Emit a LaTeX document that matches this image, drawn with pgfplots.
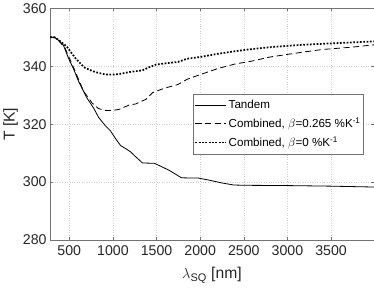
\documentclass[border=0pt]{standalone}
\usepackage{pgfplots}
\pgfplotsset{compat=1.18}
\usepackage{fontspec}
\setmainfont{Liberation Sans}
\definecolor{axgray}{gray}{0.45}
\definecolor{txt}{gray}{0.15}
\begin{document}
\begin{tikzpicture}
\begin{axis}[
  scale only axis,
  width=320pt, height=229pt,
  xmin=280, xmax=3990,
  ymin=280, ymax=360,
  xtick={500,1000,...,3500},
  ytick={280,300,...,360},
  /pgf/number format/assume math mode=true,
  /pgf/number format/1000 sep={},
  tick label style={font=\fontsize{14}{16}\selectfont, text=txt},
  xticklabel style={yshift=-2pt},
  label style={font=\fontsize{15.5}{18}\selectfont, text=txt},
  xlabel={$\lambda_{\mathrm{SQ}}$ [nm]},
  ylabel={T [K]},
  xlabel style={yshift=-5pt},
  ylabel style={yshift=-2pt},
  axis line style={axgray},
  tick style={axgray},
  tick align=inside,
  major tick length=3pt,
  grid=major,
  grid style={dotted, gray!35},
  legend style={at={(0.969,0.5)}, anchor=east, draw=axgray, fill=white,
    font=\fontsize{11.5}{14}\selectfont, text=black, inner xsep=1pt, inner ysep=4pt,
    row sep=3.5pt, cells={anchor=west}},
  legend cell align=left,
  legend image code/.code={\draw[#1] (0pt,0pt) -- (30pt,0pt);},
]
\addplot[black, line width=0.8pt] coordinates {
(280,350) (330,350) (373,349.1) (431,347.4) (489,342.9) (550,339) (605,334.9)
(701,329.1) (780,325.5) (837,322.3) (915,319.4) (972,317.7) (1030,315)
(1089,312.6) (1150,311.5) (1200,310.5) (1270,308.5) (1339,306.6) (1475,306.5)
(1560,305.3) (1649,304) (1785,301.5) (1900,301.4) (1977,301.4) (2100,300.7)
(2250,299.7) (2383,299) (2500,298.9) (3000,298.8) (3500,298.6) (3990,298.3)
};
\addlegendentry{Tandem}
\addplot[black, line width=0.8pt, dash pattern=on 6pt off 3.5pt] coordinates {
(280,350) (330,350) (373,349) (451,346.3) (567,338.3) (663,331.4) (759,327.4)
(830,325.5) (895,324.8) (980,324.7) (1069,325.1) (1185,326.6) (1262,327)
(1379,328.6) (1455,330.9) (1495,331.4) (1600,332.5) (1745,333.7) (1850,335.5)
(1997,337.1) (2200,339.2) (2400,340.8) (2577,341.7) (2800,343.2) (3000,344.1)
(3157,344.8) (3400,345.8) (3737,346.6) (3990,347.4)
};
\addlegendentry{Combined, $\beta$=0.265 \%K\textsuperscript{-1}}
\addplot[black, line width=1.7pt, dash pattern=on 1.7pt off 1.6pt] coordinates {
(280,350) (330,350) (373,349.2) (469,346.9) (567,342.9) (643,340.5) (683,339.4)
(770,338.3) (837,337.7) (915,337.2) (991,337.1) (1069,337.3) (1185,338)
(1262,338.3) (1339,338.6) (1417,339.7) (1495,340.6) (1600,341) (1745,341.5)
(1850,342.6) (1997,343.2) (2200,344.3) (2400,345.2) (2577,345.9) (2800,346.6)
(3157,347.4) (3500,347.9) (3990,348.6)
};
\addlegendentry{Combined, $\beta$=0 \%K\textsuperscript{-1}}
\end{axis}
\end{tikzpicture}
\end{document}
